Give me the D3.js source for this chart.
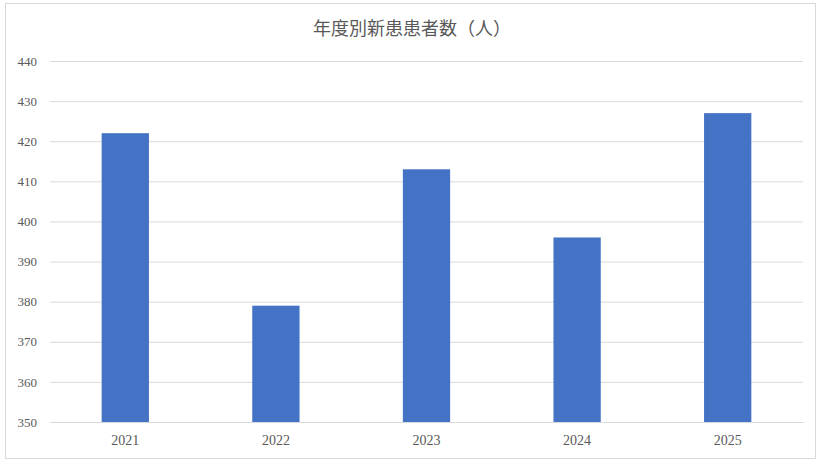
<!DOCTYPE html>
<html>
<head>
<meta charset="utf-8">
<script src="https://cdn.jsdelivr.net/npm/d3@7"></script>
<style>
  body { margin: 0; background: #fff; }
  .tick text { font-family: "Liberation Serif", "DejaVu Serif", serif; fill: #595959; }
</style>
</head>
<body>
<div class="chart"></div>
<script>
// data
var years = ["2021", "2022", "2023", "2024", "2025"];
var patients = [422, 379, 413, 396, 427];
var yTicks = [350, 360, 370, 380, 390, 400, 410, 420, 430, 440];

var svgWidth = 824;
var svgHeight = 466;

var margin = { top: 61, right: 21, bottom: 44, left: 50 };
var width = svgWidth - margin.left - margin.right;
var height = svgHeight - margin.top - margin.bottom;

var svg = d3.select(".chart")
  .append("svg")
  .attr("width", svgWidth)
  .attr("height", svgHeight);

// outer chart frame
svg.append("rect")
  .attr("x", 5.5)
  .attr("y", 3.5)
  .attr("width", 810)
  .attr("height", 455)
  .attr("fill", "#fff")
  .attr("stroke", "#d9d9d9");

svg.append("text")
  .attr("x", 412)
  .attr("y", 35)
  .attr("text-anchor", "middle")
  .style("font-family", "'Noto Sans CJK JP', sans-serif")
  .style("font-size", "18px")
  .style("fill", "#595959")
  .text("年度別新患患者数（人）");

var chartGroup = svg.append("g")
  .attr("transform", `translate(${margin.left}, ${margin.top})`);

var xBandScale = d3.scaleBand()
  .domain(years)
  .range([0, width])
  .paddingInner(0.686)
  .paddingOuter(0.343);

var yLinearScale = d3.scaleLinear()
  .domain([350, 440])
  .range([height, 0]);

// gridlines + y labels
var leftAxis = d3.axisLeft(yLinearScale)
  .tickValues(yTicks)
  .tickSize(-width)
  .tickPadding(13);

var yAxis = chartGroup.append("g").call(leftAxis);
yAxis.select(".domain").remove();
yAxis.selectAll(".tick line").attr("stroke", "#d9d9d9");
yAxis.selectAll(".tick text").style("font-size", "13px");

// bars
chartGroup.selectAll("rect.bar")
  .data(patients)
  .enter()
  .append("rect")
  .attr("class", "bar")
  .attr("x", (d, i) => xBandScale(years[i]))
  .attr("y", d => yLinearScale(d))
  .attr("width", xBandScale.bandwidth())
  .attr("height", d => height - yLinearScale(d))
  .attr("fill", "#4472c4");

// x axis
var bottomAxis = d3.axisBottom(xBandScale)
  .tickSize(0)
  .tickPadding(13);

var xAxis = chartGroup.append("g")
  .attr("transform", `translate(0, ${height})`)
  .call(bottomAxis);
xAxis.select(".domain").attr("stroke", "#d9d9d9");
xAxis.selectAll(".tick text").style("font-size", "14px");
</script>
</body>
</html>
